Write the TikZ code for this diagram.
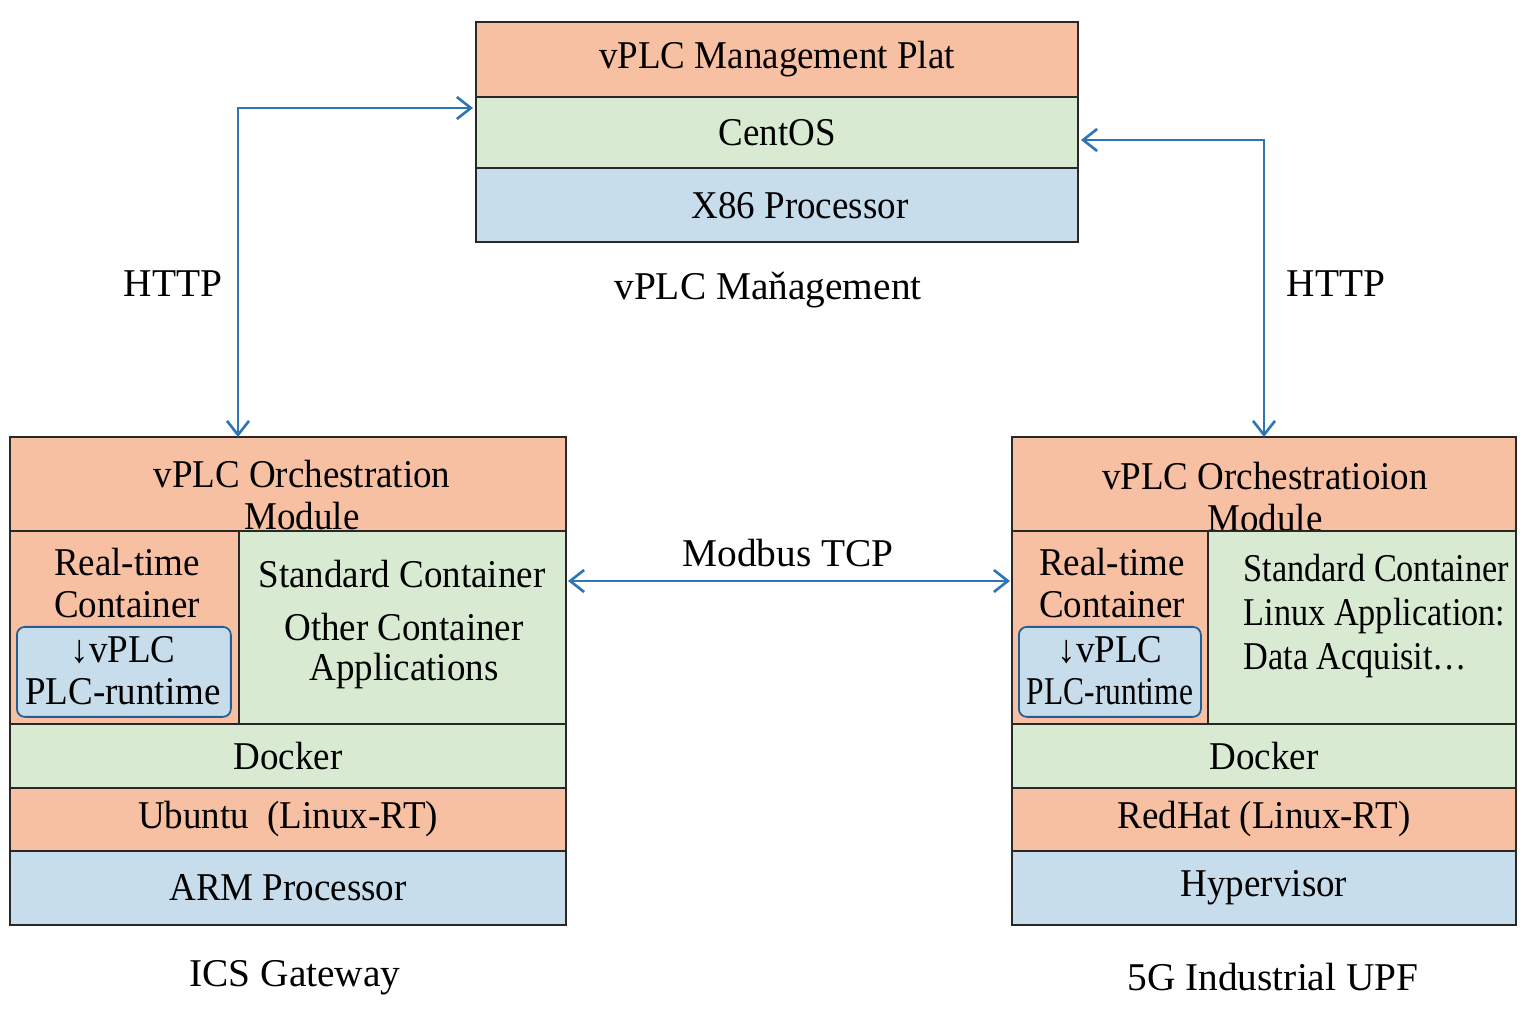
\documentclass[tikz,border=0pt]{standalone}
\usepackage{fontspec}
\setmainfont{Liberation Serif}
\newfontfamily\boxfont{Liberation Serif}[FakeStretch=0.94]
\newfontfamily\tightfont{Liberation Serif}[FakeStretch=0.87]
\newfontfamily\runfont{Liberation Serif}[FakeStretch=0.80]
\usepackage{tikz}
\usetikzlibrary{arrows.meta,positioning}
\definecolor{peach}{RGB}{248,192,162}
\definecolor{mint}{RGB}{217,234,210}
\definecolor{sky}{RGB}{199,221,236}
\definecolor{linkblue}{RGB}{46,117,182}
\definecolor{edge}{RGB}{40,40,40}

\begin{document}
\begin{tikzpicture}[
  x=0.1mm,
  y=-0.1mm,
  layer/.style={
    draw=edge,
    line width=0.5pt,
    inner sep=0pt,
    outer sep=0pt,
    align=center,
    font=\boxfont\fontsize{11.2}{12}\selectfont
  },
  os/.style={layer,fill=peach},
  rt/.style={layer,fill=mint},
  hw/.style={layer,fill=sky},
  txt/.style={
    inner sep=0pt,
    align=center,
    font=\boxfont\fontsize{11.2}{12}\selectfont
  },
  caption/.style={
    inner sep=0pt,
    font=\fontsize{11.2}{12}\selectfont
  },
  plc/.style={
    draw=linkblue!80!black,
    fill=sky,
    rounded corners=0.8mm,
    line width=0.5pt,
    minimum height=9mm
  },
  link/.style={
    draw=linkblue,
    line width=0.75pt,
    {Straight Barb[length=1.4mm,width=2.2mm]}-{Straight Barb[length=1.4mm,width=2.2mm]}
  }
]
\useasboundingbox (0,0) rectangle (1536,1024);

% management platform
\node[os,minimum width=60.2mm,minimum height=7.5mm,anchor=north west]
  (plat) at (476,22) {vPLC Management Plat};
\node[rt,minimum width=60.2mm,minimum height=7.1mm,below=0pt of plat]
  (cent) {CentOS};
\node[hw,minimum width=60.2mm,minimum height=7.4mm,below=0pt of cent]
  (x86) {};
\node[txt] (x86t) at (800,206) {X86 Processor};
\node[caption] (mgmt) at (768,290) {vPLC Maňagement};

% ICS gateway
\node[os,minimum width=55.6mm,minimum height=9.4mm,anchor=north west]
  (orchL) at (10,437) {};
\node[txt] (orchLt) at (302,495) {vPLC Orchestration\\Module};
\node[os,minimum width=22.9mm,minimum height=19.3mm,anchor=north west]
  (rtL) at (orchL.south west) {};
\node[rt,minimum width=32.7mm,minimum height=19.3mm,right=0pt of rtL]
  (stdL) {};
\node[txt] (rtLt) at (127,583) {Real-time\\Container};
\node[plc,minimum width=21.4mm,anchor=north west] (plcL) at (16,626) {};
\node[txt] (plcLt) at (123,671) {↓vPLC\\PLC-runtime};
\node[txt] (stdLt) at (402,574) {Standard Container};
\node[txt,font=\boxfont\fontsize{11.2}{11.6}\selectfont] (appL) at (404,651) {Other Container\\Applications};
\node[rt,minimum width=55.6mm,minimum height=6.4mm,anchor=north west]
  (dockL) at (rtL.south west) {Docker};
\node[os,minimum width=55.6mm,minimum height=6.3mm,below=0pt of dockL]
  (ubuL) {Ubuntu\ \ (Linux-RT)};
\node[hw,minimum width=55.6mm,minimum height=7.4mm,below=0pt of ubuL]
  (armL) {ARM Processor};
\node[caption] (icsL) at (295,978) {ICS Gateway};

% 5G industrial UPF
\node[os,minimum width=50.4mm,minimum height=9.4mm,anchor=north west]
  (orchR) at (1012,437) {};
\node[txt] (orchRt) at (1265,497) {vPLC Orchestratioion\\Module};
\node[os,minimum width=19.6mm,minimum height=19.3mm,anchor=north west]
  (rtR) at (orchR.south west) {};
\node[rt,minimum width=30.8mm,minimum height=19.3mm,right=0pt of rtR]
  (stdR) {};
\node[txt] (rtRt) at (1112,583) {Real-time\\Container};
\node[plc,minimum width=18.2mm,anchor=north west] (plcR) at (1018,626) {};
\node[txt] (plcRt) at (1110,671) {↓vPLC\\{\runfont PLC-runtime}};
\node[txt,align=left,anchor=west,font=\tightfont\fontsize{11.2}{12.5}\selectfont]
  (appR) at (1243,616) {Standard Container\\Linux Application:\\Data Acquisit…};
\node[rt,minimum width=50.4mm,minimum height=6.4mm,anchor=north west]
  (dockR) at (rtR.south west) {Docker};
\node[os,minimum width=50.4mm,minimum height=6.3mm,below=0pt of dockR]
  (redR) {RedHat (Linux-RT)};
\node[hw,minimum width=50.4mm,minimum height=7.4mm,below=0pt of redR]
  (hypR) {Hypervisor};
\node[caption] (upfR) at (1273,977) {5G Industrial UPF};

% links
\draw[link] ([yshift=-1.1mm,xshift=-0.3mm]cent.north west) -| ([xshift=-5mm]orchL.north);
\draw[link] ([yshift=-0.75mm,xshift=0.3mm]cent.east) -| (orchR.north);
\draw[link] ([yshift=4.65mm,xshift=0.2mm]stdL.east) -- ([yshift=4.65mm,xshift=-0.2mm]rtR.west);

\node[caption] (httpL) at (173,284) {HTTP};
\node[caption] (httpR) at (1336,284) {HTTP};
\node[caption] (modbus) at (788,553) {Modbus TCP};
\end{tikzpicture}
\end{document}
